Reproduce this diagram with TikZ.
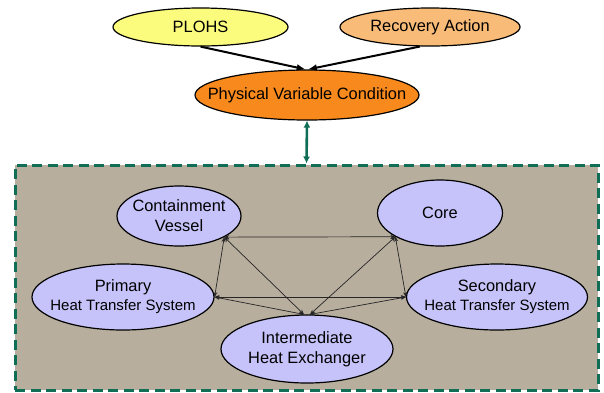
\documentclass[tikz,border=0pt]{standalone}
\usepackage{fontspec}
\setmainfont{Liberation Sans}
\usetikzlibrary{shapes.geometric,arrows.meta}
\definecolor{plohsY}{HTML}{FBFB7E}
\definecolor{recO}{HTML}{F9BC78}
\definecolor{pvcO}{HTML}{F8891C}
\definecolor{lav}{HTML}{C6C3FA}
\definecolor{tan}{HTML}{B8AE9E}
\definecolor{dgreen}{HTML}{0F6E55}
\begin{document}
\begin{tikzpicture}[x=1pt,y=-1pt,
  bub/.style={ellipse,draw=black,line width=1.2pt,inner sep=0pt},
  txt/.style={inner sep=0pt,align=center,font=\fontsize{16.4}{20}\selectfont},
  big/.style={-{Latex[length=9pt,width=7pt]},line width=2pt,black},
  link/.style={{Stealth[length=5pt,width=4pt]}-{Stealth[length=5pt,width=4pt]},line width=0.7pt,black!85},
  frame/.style={draw=dgreen,fill=tan,line width=3pt,dash pattern=on 10pt off 5.5pt,inner sep=0pt}
]
\useasboundingbox (0,0) rectangle (604,392);
% top
\node[bub,fill=plohsY,minimum width=175,minimum height=38] (plohs) at (200.5,27) {};
\node[txt] (plohst) at (plohs) {PLOHS};
\node[bub,fill=recO,minimum width=180,minimum height=38] (rec) at (430,27) {};
\node[txt] (rect) at (rec) {Recovery Action};
\node[bub,fill=pvcO,minimum width=224,minimum height=50] (pvc) at (307,95) {};
\node[txt] (pvct) at (pvc) {Physical Variable Condition};
\draw[big] (plohs.south) -- (pvc.93);
\draw[big] (rec.243) -- (pvc.88);
% frame
\node[frame,minimum width=583,minimum height=225] (box) at (306.5,277.5) {};
\draw[dgreen,line width=2.6pt,{Latex[length=7pt,width=7pt]}-{Latex[length=7pt,width=7pt]}] (pvc.south) -- (box.north);
% inner
\node[bub,fill=lav,minimum width=124,minimum height=60] (cv) at (179,216) {};
\node[txt] (cvt) at (cv.center) {Containment\\Vessel};
\node[bub,fill=lav,minimum width=125,minimum height=66] (core) at (440,213) {};
\node[txt] (coret) at (core) {Core};
\node[bub,fill=lav,minimum width=182,minimum height=66] (pri) at (123,297) {};
\node[txt] (prit) at (pri) {Primary\\[-1pt]{\fontsize{15}{18}\selectfont Heat Transfer System}};
\node[bub,fill=lav,minimum width=181,minimum height=66] (sec) at (497,297) {};
\node[txt] (sect) at (sec) {Secondary\\[-1pt]{\fontsize{15}{18}\selectfont Heat Transfer System}};
\node[bub,fill=lav,minimum width=172,minimum height=68] (ihx) at (307,349) {};
\node[txt] (ihxt) at (ihx) {Intermediate\\Heat Exchanger};
% links
\draw[link] (cv.-25) -- (core.208);
\draw[link] (cv.-25) -- (pri.east);
\draw[link] (cv.-25) -- (ihx.95);
\draw[link] (core.208) -- (ihx.85);
\draw[link] (core.208) -- (sec.west);
\draw[link] (pri.east) -- (sec.west);
\draw[link] (pri.east) -- (ihx.95);
\draw[link] (sec.west) -- (ihx.85);
\end{tikzpicture}
\end{document}
